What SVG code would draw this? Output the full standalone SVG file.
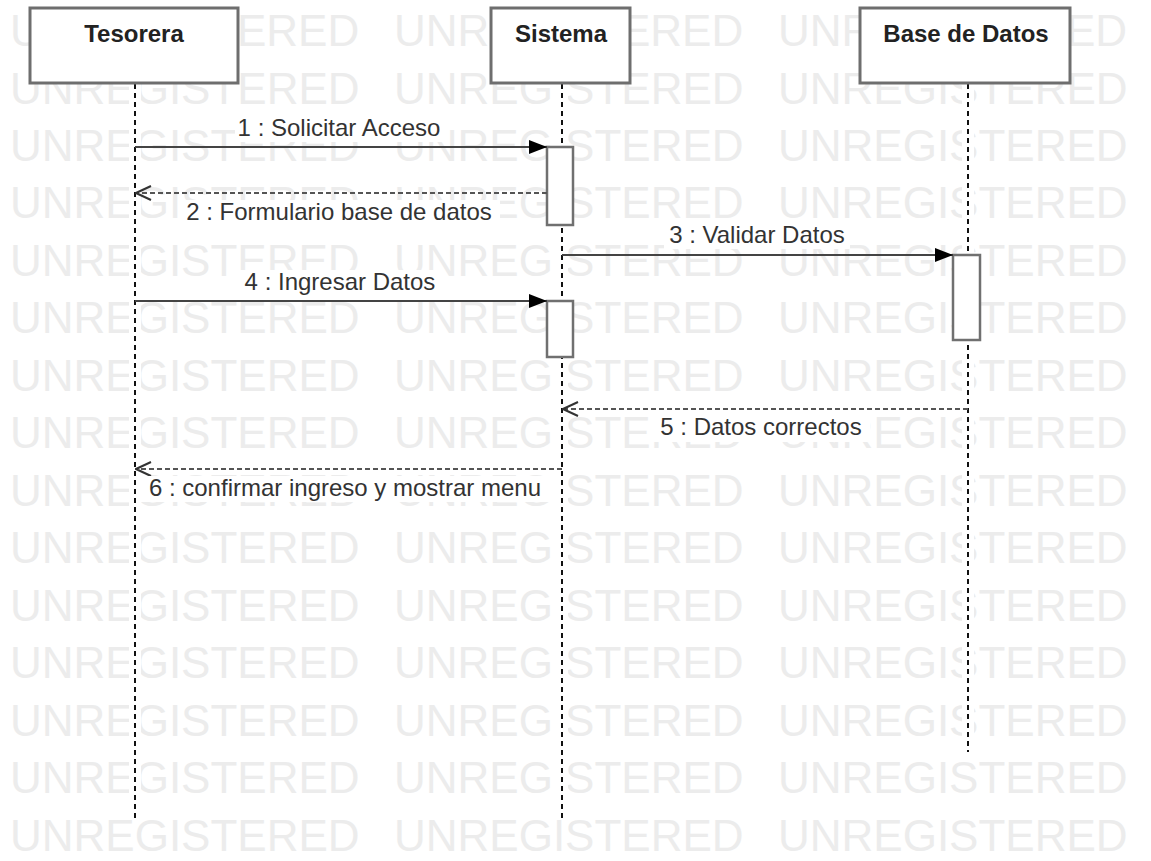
<svg xmlns="http://www.w3.org/2000/svg" width="1151" height="861" viewBox="0 0 1151 861">
  <style>
    .wm { font-family: "Liberation Sans", Arial, sans-serif; font-size: 44px; fill: #ececec; }
    .head { fill: #ffffff; stroke: #6e6e6e; stroke-width: 3; }
    .head-text { font-family: "Liberation Sans", Arial, sans-serif; font-size: 24px; font-weight: bold; fill: #222222; text-anchor: middle; }
    .band { fill: #ffffff; }
    .life { stroke: #111111; stroke-width: 2; stroke-dasharray: 5 4; fill: none; }
    .act { fill: #ffffff; stroke: #707070; stroke-width: 2.5; }
    .msg { stroke: #444444; stroke-width: 2.2; fill: none; }
    .ret { stroke: #555555; stroke-width: 2; stroke-dasharray: 5 3; fill: none; }
    .label { font-family: "Liberation Sans", Arial, sans-serif; font-size: 24px; fill: #333333; text-anchor: middle; }
    .lbg { fill: #ffffff; }
  </style>
  <defs>
    <marker id="filled" viewBox="0 0 18 16" refX="18" refY="8" markerWidth="18" markerHeight="16" markerUnits="userSpaceOnUse" orient="auto">
      <path d="M0,1 L18,8 L0,15 Z" fill="#000000"/>
    </marker>
    <marker id="open" viewBox="0 0 18 18" refX="17" refY="9" markerWidth="18" markerHeight="18" markerUnits="userSpaceOnUse" orient="auto">
      <path d="M2,2 L17,9 L2,16" fill="none" stroke="#333333" stroke-width="2"/>
    </marker>
  </defs>

  <rect x="0" y="0" width="1151" height="861" fill="#ffffff"/>

  <!-- background watermark rows (top row only shows the parts between the header boxes) -->
  <g id="watermark">
    <text class="wm" x="10" y="46">U</text><text class="wm" x="237" y="46">ERED</text><text class="wm" x="394" y="46">UNR</text><text class="wm" x="621" y="46">ERED</text><text class="wm" x="778" y="46">UNR</text><text class="wm" x="1066" y="46">ED</text>
    <text class="wm" x="10" y="104">UNREGISTERED</text><text class="wm" x="394" y="104">UNREGISTERED</text><text class="wm" x="778" y="104">UNREGISTERED</text>
    <text class="wm" x="10" y="161">UNREGISTERED</text><text class="wm" x="394" y="161">UNREGISTERED</text><text class="wm" x="778" y="161">UNREGISTERED</text>
    <text class="wm" x="10" y="218">UNREGISTERED</text><text class="wm" x="394" y="218">UNREGISTERED</text><text class="wm" x="778" y="218">UNREGISTERED</text>
    <text class="wm" x="10" y="276">UNREGISTERED</text><text class="wm" x="394" y="276">UNREGISTERED</text><text class="wm" x="778" y="276">UNREGISTERED</text>
    <text class="wm" x="10" y="333">UNREGISTERED</text><text class="wm" x="394" y="333">UNREGISTERED</text><text class="wm" x="778" y="333">UNREGISTERED</text>
    <text class="wm" x="10" y="391">UNREGISTERED</text><text class="wm" x="394" y="391">UNREGISTERED</text><text class="wm" x="778" y="391">UNREGISTERED</text>
    <text class="wm" x="10" y="448">UNREGISTERED</text><text class="wm" x="394" y="448">UNREGISTERED</text><text class="wm" x="778" y="448">UNREGISTERED</text>
    <text class="wm" x="10" y="506">UNREGISTERED</text><text class="wm" x="394" y="506">UNREGISTERED</text><text class="wm" x="778" y="506">UNREGISTERED</text>
    <text class="wm" x="10" y="563">UNREGISTERED</text><text class="wm" x="394" y="563">UNREGISTERED</text><text class="wm" x="778" y="563">UNREGISTERED</text>
    <text class="wm" x="10" y="621">UNREGISTERED</text><text class="wm" x="394" y="621">UNREGISTERED</text><text class="wm" x="778" y="621">UNREGISTERED</text>
    <text class="wm" x="10" y="678">UNREGISTERED</text><text class="wm" x="394" y="678">UNREGISTERED</text><text class="wm" x="778" y="678">UNREGISTERED</text>
    <text class="wm" x="10" y="736">UNREGISTERED</text><text class="wm" x="394" y="736">UNREGISTERED</text><text class="wm" x="778" y="736">UNREGISTERED</text>
    <text class="wm" x="10" y="793">UNREGISTERED</text><text class="wm" x="394" y="793">UNREGISTERED</text><text class="wm" x="778" y="793">UNREGISTERED</text>
    <text class="wm" x="10" y="851">UNREGISTERED</text><text class="wm" x="394" y="851">UNREGISTERED</text><text class="wm" x="778" y="851">UNREGISTERED</text>
  </g>

  <!-- lifeline: Tesorera -->
  <g id="tesorera">
    <rect class="band" x="129" y="84" width="12" height="734"/>
    <line class="life" x1="135" y1="84" x2="135" y2="818"/>
    <rect class="head" x="30" y="8" width="208" height="75"/>
    <text class="head-text" x="134" y="42">Tesorera</text>
  </g>

  <!-- lifeline: Sistema -->
  <g id="sistema">
    <rect class="band" x="556" y="84" width="12" height="734"/>
    <line class="life" x1="562" y1="84" x2="562" y2="818"/>
    <rect class="head" x="491" y="8" width="139" height="75"/>
    <text class="head-text" x="561" y="42">Sistema</text>
  </g>

  <!-- lifeline: Base de Datos -->
  <g id="base-de-datos">
    <rect class="band" x="962" y="84" width="12" height="668"/>
    <line class="life" x1="968" y1="84" x2="968" y2="752"/>
    <rect class="head" x="860" y="8" width="210" height="75"/>
    <text class="head-text" x="966" y="42">Base de Datos</text>
  </g>

  <!-- activation bars -->
  <g id="activations">
    <rect class="act" x="547" y="147" width="26" height="78"/>
    <rect class="act" x="547" y="301" width="26" height="56"/>
    <rect class="act" x="953" y="255" width="27" height="85"/>
  </g>

  <!-- messages -->
  <g id="connectors">
    <line class="msg" x1="135" y1="147" x2="547" y2="147" marker-end="url(#filled)"/>
    <line class="ret" x1="547" y1="193" x2="136" y2="193" marker-end="url(#open)"/>
    <line class="msg" x1="562" y1="255" x2="953" y2="255" marker-end="url(#filled)"/>
    <line class="msg" x1="135" y1="301" x2="547" y2="301" marker-end="url(#filled)"/>
    <line class="ret" x1="968" y1="409" x2="563" y2="409" marker-end="url(#open)"/>
    <line class="ret" x1="562" y1="469" x2="136" y2="469" marker-end="url(#open)"/>
  </g>

  <!-- message labels on white plates -->
  <g id="labels">
    <rect class="lbg" x="235" y="116" width="208" height="26"/>
    <text class="label" x="339" y="136">1 : Solicitar Acceso</text>
    <rect class="lbg" x="178" y="200" width="322" height="26"/>
    <text class="label" x="339" y="220">2 : Formulario base de datos</text>
    <rect class="lbg" x="664" y="223" width="186" height="26"/>
    <text class="label" x="757" y="243">3 : Validar Datos</text>
    <rect class="lbg" x="240" y="270" width="200" height="26"/>
    <text class="label" x="340" y="290">4 : Ingresar Datos</text>
    <rect class="lbg" x="652" y="416" width="218" height="26"/>
    <text class="label" x="761" y="435">5 : Datos correctos</text>
    <rect class="lbg" x="138" y="476" width="418" height="26"/>
    <text class="label" x="345" y="496">6 : confirmar ingreso y mostrar menu</text>
  </g>
</svg>
